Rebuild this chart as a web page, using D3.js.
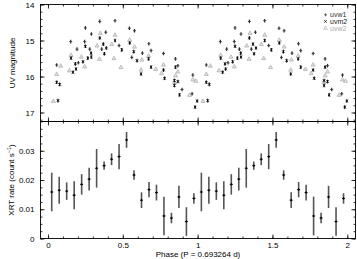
<!DOCTYPE html>
<html><head><meta charset="utf-8">
<script src="https://cdn.jsdelivr.net/npm/d3@7"></script>
<style>body{margin:0;background:#fff}svg{display:block}text{font-family:"Liberation Sans",Arial,Helvetica,sans-serif}</style>
</head><body><svg id="c" width="357" height="259"></svg>
<script>
// ---- data (one phase cycle; plotted twice, phase and phase+1) ----
const uvw1Phase=[0.058,0.152,0.194,0.203,0.250,0.245,0.279,0.290,0.346,0.359,0.386,0.448,0.475,0.544,0.578,0.560,0.631,0.674,0.689,0.772,0.852,0.868,0.896,0.968,0.963];
const uvw1Mag  =[15.68,15.03,15.24,15.62,14.65,15.03,15.24,14.82,14.47,15.24,14.77,14.45,15.14,14.66,14.73,15.47,15.35,15.09,15.28,15.36,15.51,15.70,16.36,15.96,16.48];
const uvm2Phase=[0.067,0.058,0.078,0.167,0.154,0.183,0.187,0.234,0.250,0.266,0.288,0.290,0.346,0.370,0.377,0.390,0.448,0.493,0.546,0.573,0.595,0.622,0.672,0.689,0.772,0.779,0.852,0.845,0.845,0.868,0.879,0.997,0.983];
const uvm2Mag  =[16.67,16.16,16.22,15.88,15.49,15.65,15.79,15.59,15.16,15.49,15.35,15.46,14.93,15.10,15.37,15.21,15.00,15.26,15.07,15.31,15.56,15.93,15.51,15.74,15.82,16.05,15.74,16.11,16.25,16.14,16.51,16.68,16.85];
const uvw2Phase=[0.036,0.058,0.085,0.143,0.154,0.223,0.245,0.328,0.350,0.344,0.426,0.448,0.441,0.488,0.546,0.578,0.627,0.622,0.672,0.720,0.759,0.772,0.852,0.868,0.845,0.946,0.968,0.988];
const uvw2Mag  =[16.68,15.93,15.70,15.83,15.40,15.45,15.72,15.14,14.79,15.51,15.10,14.84,15.49,15.74,14.98,15.17,15.53,15.81,15.42,15.79,15.91,15.67,15.97,15.86,16.16,16.51,16.08,16.12];
const uvErr=0.05;
const xrtPhase=[0.025,0.075,0.125,0.175,0.225,0.275,0.325,0.375,0.425,0.475,0.525,0.575,0.625,0.675,0.725,0.775,0.825,0.875,0.925,0.975];
const xrtRate =[0.0159,0.0165,0.0162,0.0148,0.0185,0.0203,0.0240,0.0249,0.0271,0.0280,0.0337,0.0217,0.0131,0.0167,0.0157,0.0077,0.0070,0.0142,0.0058,0.0137];
const xrtErr  =[0.0066,0.0046,0.0030,0.0048,0.0035,0.0039,0.0066,0.0014,0.0020,0.0043,0.0027,0.0016,0.0027,0.0026,0.0027,0.0066,0.0018,0.0038,0.0049,0.0018];
const cycles=[0,1];
const phaseTicks=[0,0.5,1,1.5,2];
const uvTicks=[14,15,16,17];
const xrtTicks=[0,0.01,0.02,0.03];
const legendNames=["uvw1","uvm2","uvw2"];

// ---- layout ----
const L=40.5,R=355.5,T=4.5,M=121.5,B=238.5;
const svg=d3.select("#c");
const x=d3.scaleLinear().domain([-0.05,2.055]).range([L,R]);
const yU=d3.scaleLinear().domain([14,17.25]).range([T,M]);
const yX=d3.scaleLinear().domain([0,0.04]).range([B,M]);
const fs=8;

function axis(gen,scale,tr,vals,size,fmt,pad){
  const a=gen(scale).tickValues(vals).tickSizeInner(-size).tickSizeOuter(0).tickPadding(pad||3).tickFormat(fmt||"");
  const g=svg.append("g").attr("transform",tr).call(a);
  g.select(".domain").remove();
  g.selectAll("line").attr("stroke","#000").attr("stroke-width",0.8);
  g.selectAll("text").attr("font-size",fs).attr("fill","#000").style("font-family",'"Liberation Sans",Arial,sans-serif');
  return g;
}
const xMinor=d3.range(0,2.0001,0.1);
const uvMinor=d3.range(14,17.2501,0.2);
const xrMinor=d3.range(0,0.04001,0.0025);
const fmtX=d=>d===0?"0":String(d);
const fmtR=d=>d===0?"0":d.toFixed(2);
// top panel
axis(d3.axisTop,x,`translate(0,${T})`,xMinor,2);
axis(d3.axisTop,x,`translate(0,${T})`,phaseTicks,4);
axis(d3.axisBottom,x,`translate(0,${M})`,xMinor,2);
axis(d3.axisBottom,x,`translate(0,${M})`,phaseTicks,4);
axis(d3.axisLeft,yU,`translate(${L},0)`,uvMinor,2);
axis(d3.axisLeft,yU,`translate(${L},0)`,uvTicks,4,d=>String(d),6);
axis(d3.axisRight,yU,`translate(${R},0)`,uvMinor,2);
axis(d3.axisRight,yU,`translate(${R},0)`,uvTicks,4);
// bottom panel
axis(d3.axisTop,x,`translate(0,${M})`,xMinor,2);
axis(d3.axisTop,x,`translate(0,${M})`,phaseTicks,4);
axis(d3.axisBottom,x,`translate(0,${B})`,xMinor,2);
axis(d3.axisBottom,x,`translate(0,${B})`,phaseTicks,4,fmtX,4);
axis(d3.axisLeft,yX,`translate(${L},0)`,xrMinor,2);
axis(d3.axisLeft,yX,`translate(${L},0)`,xrtTicks,4,fmtR,6);
axis(d3.axisRight,yX,`translate(${R},0)`,xrMinor,2);
axis(d3.axisRight,yX,`translate(${R},0)`,xrtTicks,4);

// frames
[[T,M],[M,B]].forEach(([a,b])=>svg.append("rect").attr("x",L).attr("y",a).attr("width",R-L).attr("height",b-a).attr("fill","none").attr("stroke","#000").attr("stroke-width",0.9));

// ---- UV marks ----
const gU=svg.append("g");
function uvSeries(ph,mag,kind,color){
  cycles.forEach(c=>{
    ph.forEach((p,i)=>{
      const cx=x(p+c),cy=yU(mag[i]);
      if(kind==="tri"){
        gU.append("path").attr("d",`M${cx},${cy-2}L${cx+2},${cy+1.5}L${cx-2},${cy+1.5}Z`).attr("fill","#e4e4e4").attr("stroke",color).attr("stroke-width",0.8);
      } else {
        gU.append("line").attr("x1",cx).attr("x2",cx).attr("y1",yU(mag[i]-uvErr)).attr("y2",yU(mag[i]+uvErr)).attr("stroke",color).attr("stroke-width",1.2);
        if(kind==="plus"){
          gU.append("line").attr("x1",cx-1.5).attr("x2",cx+1.5).attr("y1",cy).attr("y2",cy).attr("stroke",color).attr("stroke-width",0.9);
        } else {
          gU.append("path").attr("d",`M${cx-1.2},${cy-1.2}L${cx+1.2},${cy+1.2}M${cx-1.2},${cy+1.2}L${cx+1.2},${cy-1.2}`).attr("stroke",color).attr("stroke-width",0.9);
        }
      }
    });
  });
}
uvSeries(uvw2Phase,uvw2Mag,"tri","#b0b0b0");
uvSeries(uvw1Phase,uvw1Mag,"plus","#333");
uvSeries(uvm2Phase,uvm2Mag,"x","#111");

// legend
const lg=svg.append("g");
const lgCol=["#444","#111","#aaa"];
const lgTxt=["#333","#222","#aaa"];
legendNames.forEach((n,i)=>{
  const cx=325.5,cy=14.8+i*6.6;
  if(i===0) lg.append("path").attr("d",`M${cx-1.5},${cy}H${cx+1.5}M${cx},${cy-1.5}V${cy+1.5}`).attr("stroke",lgCol[i]).attr("stroke-width",0.8);
  if(i===1) lg.append("path").attr("d",`M${cx-1.3},${cy-1.3}L${cx+1.3},${cy+1.3}M${cx-1.3},${cy+1.3}L${cx+1.3},${cy-1.3}`).attr("stroke",lgCol[i]).attr("stroke-width",0.8);
  if(i===2) lg.append("path").attr("d",`M${cx},${cy-1.8}L${cx+1.8},${cy+1.3}L${cx-1.8},${cy+1.3}Z`).attr("fill","none").attr("stroke",lgCol[i]).attr("stroke-width",0.7);
  lg.append("text").attr("x",330).attr("y",cy+2.5).attr("font-size",7).attr("fill",lgTxt[i]).text(n);
});

// ---- XRT marks ----
const gX=svg.append("g");
cycles.forEach(c=>{
  xrtPhase.forEach((p,i)=>{
    const cx=x(p+c),cy=yX(xrtRate[i]);
    gX.append("line").attr("x1",cx).attr("x2",cx).attr("y1",yX(xrtRate[i]-xrtErr[i])).attr("y2",yX(xrtRate[i]+xrtErr[i])).attr("stroke","#555").attr("stroke-width",1.6);
    gX.append("line").attr("x1",cx-1.5).attr("x2",cx+1.5).attr("y1",cy).attr("y2",cy).attr("stroke","#000").attr("stroke-width",1);
    gX.append("line").attr("x1",cx).attr("x2",cx).attr("y1",cy-1.2).attr("y2",cy+1.2).attr("stroke","#000").attr("stroke-width",1);
  });
});

// ---- axis titles ----
svg.append("text").attr("transform","translate(14.5,63) rotate(-90)").attr("text-anchor","middle").attr("font-size",8).attr("fill","#000").text("UV magnitude");
const t2=svg.append("text").attr("transform","translate(13.5,180) rotate(-90)").attr("text-anchor","middle").attr("font-size",8).attr("fill","#000");
t2.append("tspan").text("XRT rate (count s");
t2.append("tspan").attr("font-size",5.5).attr("dy",-3).text("\u22121");
t2.append("tspan").attr("dy",3).text(")");
svg.append("text").attr("x",198).attr("y",257).attr("text-anchor","middle").attr("font-size",8).attr("fill","#000").text("Phase (P = 0.693264 d)");
</script></body></html>
